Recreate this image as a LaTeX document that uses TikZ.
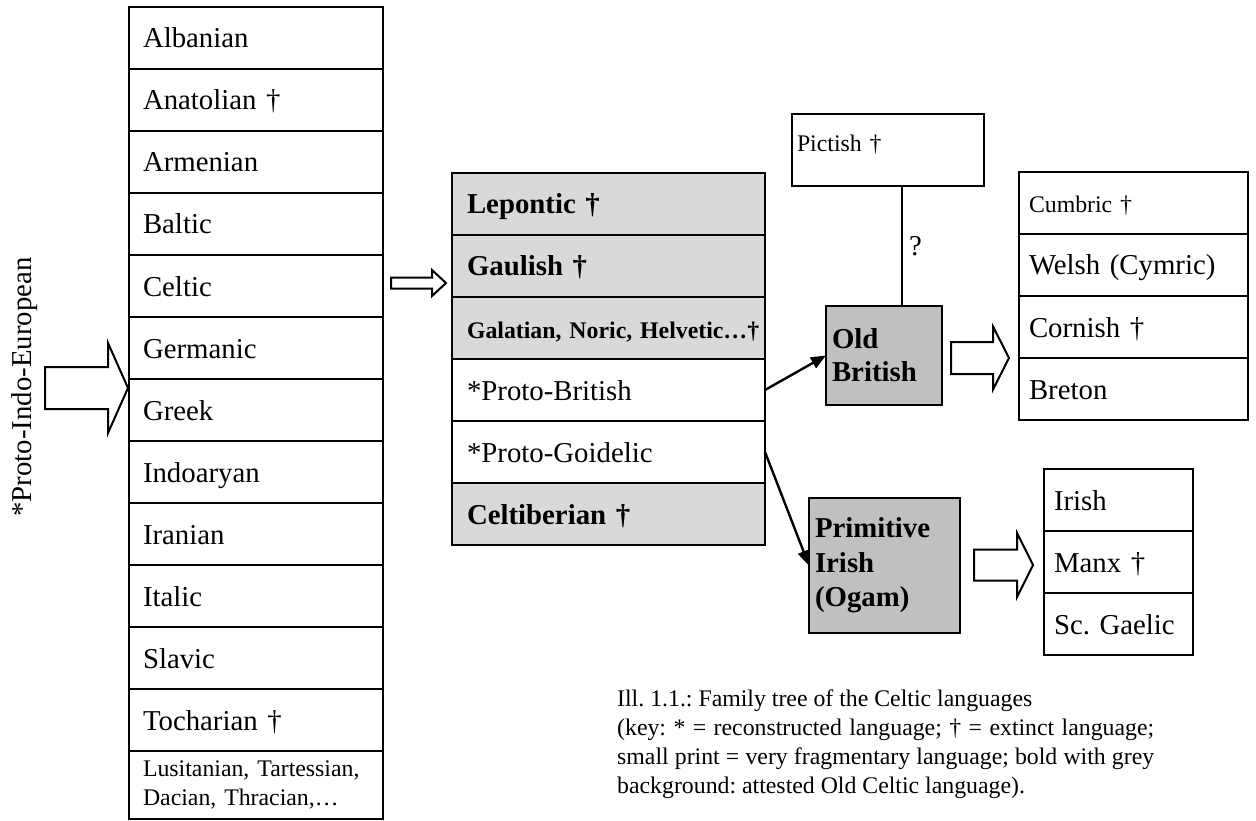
\documentclass[tikz,border=0pt]{standalone}
\usepackage{fontspec}
\setmainfont{Liberation Serif}
\usepackage{tikz}
\usetikzlibrary{positioning,arrows.meta}
\frenchspacing

\definecolor{paleg}{HTML}{D9D9D9}
\definecolor{midg}{HTML}{C0C0C0}
\newcommand{\bigsz}{\fontsize{28.8}{34}\selectfont}
\newcommand{\smlsz}{\fontsize{23.8}{29}\selectfont}
% hollow block arrow: tail x, neck x, tip x, mid y, half shaft, half head
\newcommand{\blkarrow}[6]{\draw[line width=2pt, line join=miter] (#1,#4-#5) -- (#2,#4-#5) -- (#2,#4-#6) -- (#3,#4) -- (#2,#4+#6) -- (#2,#4+#5) -- (#1,#4+#5) -- cycle;}

\tikzset{
	box/.style={draw, line width=2.4pt, outer sep=0pt, align=left, inner ysep=0pt, font=\bigsz},
	row/.style={box, anchor=north, minimum height=62pt, text height=20pt, text depth=0pt},
	colA/.style={row, text width=226pt, inner xsep=14pt},
	colB/.style={row, text width=283pt, inner xsep=15pt},
	colC/.style={row, text width=209pt, inner xsep=10pt},
	colD/.style={row, text width=129pt, inner xsep=10pt},
	attested/.style={fill=paleg, font=\bigsz\bfseries},
	stage/.style={box, fill=midg, inner xsep=6pt, font=\bfseries\fontsize{28.8}{33}\selectfont},
	descent/.style={line width=2.4pt, -{Triangle[length=15pt,width=12pt]}}
}

\begin{document}
\begin{tikzpicture}[x=1pt, y=-1pt]
			{\useasboundingbox (0,0) rectangle (1256,821);}
			% Indo-European branches
			{\node[rotate=90, font=\bigsz] (pie) at (24.5,387) {*Proto-Indo-European};}
			{\node[colA] (alb) at (256,7) {Albanian};}
			{\node[colA, below=0pt of alb] (anat) {Anatolian †};}
			{\node[colA, below=0pt of anat] (arm) {Armenian};}
			{\node[colA, below=0pt of arm] (balt) {Baltic};}
			{\node[colA, below=0pt of balt] (celt) {Celtic};}
			{\node[colA, below=0pt of celt] (germ) {Germanic};}
			{\node[colA, below=0pt of germ] (greek) {Greek};}
			{\node[colA, below=0pt of greek] (indo) {Indoaryan};}
			{\node[colA, below=0pt of indo] (iran) {Iranian};}
			{\node[colA, below=0pt of iran] (ital) {Italic};}
			{\node[colA, below=0pt of ital] (slav) {Slavic};}
			{\node[colA, below=0pt of slav] (toch) {Tocharian †};}
			{\node[box, below=0pt of toch, minimum height=68pt, text width=226pt, inner xsep=14pt, font=\smlsz] (lusi) {\makebox[226pt][s]{Lusitanian, Tartessian,}\\Dacian, Thracian,…};}
			{\blkarrow{45}{108}{128}{388}{21}{45}}
			% Celtic branches
			{\blkarrow{391}{432}{446}{283}{5.5}{13}}
			{\node[colB, attested] (lep) at (608.5,173) {Lepontic †};}
			{\node[colB, attested, below=0pt of lep] (gaul) {Gaulish †};}
			{\node[colB, attested, below=0pt of gaul, font=\smlsz\bfseries] (gal) {\mbox{Galatian, Noric, Helvetic…†}};}
			{\node[colB, below=0pt of gal] (pbrit) {*Proto-British};}
			{\node[colB, below=0pt of pbrit] (pgoid) {*Proto-Goidelic};}
			{\node[colB, attested, below=0pt of pgoid] (celtib) {Celtiberian †};}
			% British
			{\node[draw, line width=2pt, outer sep=0pt, minimum width=192pt, minimum height=72pt, text width=182pt, inner xsep=5pt, align=left, font=\smlsz, text height=16pt, text depth=12pt] (pict) at (888,150) {Pictish †};}
			{\node[stage, minimum width=116pt, minimum height=99pt, text width=104pt] (oldbrit) at (884,355.5) {Old\\British};}
			{\coordinate (qx) at (902,0);}
			{\draw[line width=2pt] (pict.south -| qx) -- node[right, font=\bigsz, inner sep=6pt] (qmark) {?} (oldbrit.north -| qx);}
			{\draw[descent] (pbrit.east) -- (oldbrit.west);}
			{\blkarrow{951}{993}{1009}{358}{16}{31.5}}
			{\node[colC, font=\smlsz] (cumb) at (1133.5,172) {Cumbric †};}
			{\node[colC, below=0pt of cumb] (welsh) {Welsh (Cymric)};}
			{\node[colC, below=0pt of welsh] (corn) {Cornish †};}
			{\node[colC, below=0pt of corn] (bret) {Breton};}
			% Goidelic
			{\node[stage, minimum width=151pt, minimum height=135pt, text width=139pt, font=\bfseries\fontsize{28.8}{34.5}\selectfont] (primir) at (884.5,565.5) {Primitive\\Irish\\(Ogam)};}
			{\draw[descent] (pgoid.east) -- (primir.west);}
			{\blkarrow{974}{1017}{1033}{565}{15.5}{32}}
			{\node[colD] (irish) at (1118.5,469) {Irish};}
			{\node[colD, below=0pt of irish] (manx) {Manx †};}
			{\node[colD, below=0pt of manx] (gael) {Sc. Gaelic};}
			% caption
			{\node[anchor=west, inner sep=0pt, align=left, font=\smlsz] (cap) at (617,744) {Ill. 1.1.: Family tree of the Celtic languages\\\makebox[537pt][s]{(key: * = reconstructed language; † = extinct language;}\\\makebox[537pt][s]{small print = very fragmentary language; bold with grey}\\background: attested Old Celtic language).};}
		\end{tikzpicture}
\end{document}
